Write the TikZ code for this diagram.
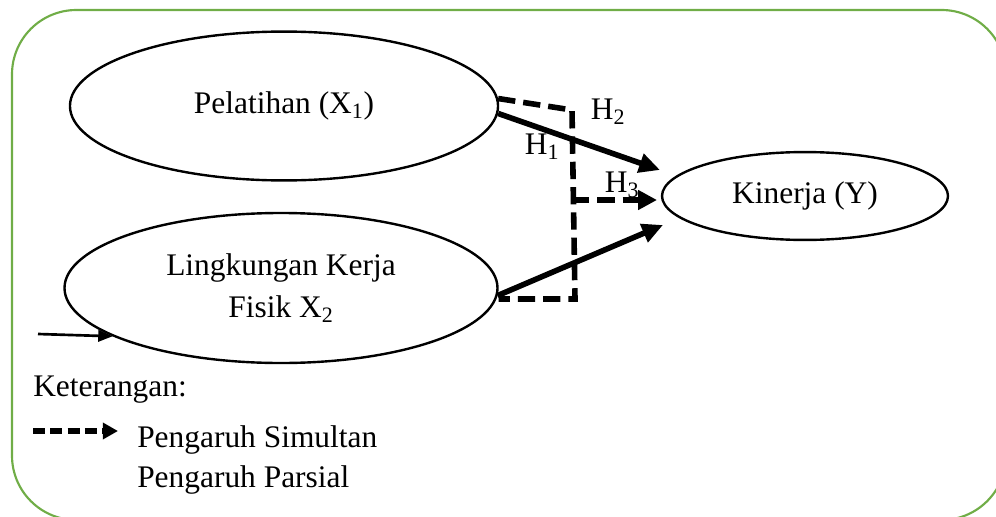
\documentclass[tikz,border=0pt]{standalone}
\usepackage{fontspec}
\setmainfont{Liberation Serif}
\usetikzlibrary{positioning, shapes.geometric, arrows.meta}
\definecolor{framegreen}{RGB}{112,173,71}
\tikzset{
    var/.style = {draw, ellipse, line width = 1.8pt, inner sep = 0pt, align = center},
    lbl/.style = {inner sep = 0pt, anchor = west},
    tip/.style = {line width = 4.2pt, -{Triangle[length = 0.55cm, width = 0.5cm]}},
    simtip/.style = {line width = 4.2pt, dash pattern = on 13pt off 6pt, -{Triangle[length = 0.5cm, width = 0.5cm]}},
    simline/.style = {line width = 4.2pt, dash pattern = on 13pt off 6pt}
}

\begin{document}
\begin{tikzpicture}
        [
            x = 0.0264cm, y = -0.0264cm,
            font = \fontsize{23.6}{28}\selectfont
        ]
        \useasboundingbox (0,0) rectangle (996,516);
        \begin{scope}
            \clip (0,0) rectangle (996,516);
            \draw[framegreen, line width = 1.6pt, rounded corners = 1.7cm] (12,10) rectangle (1006,520);
        \end{scope}
        \node[var, minimum width = 11.3cm, minimum height = 3.93cm]  (pel)  at (284,106) {Pelatihan (X\textsubscript{1})};
        \node[var, minimum width = 11.43cm, minimum height = 3.96cm] (ling) at (281,288) {Lingkungan Kerja\\[3pt]Fisik X\textsubscript{2}};
        \node[var, minimum width = 7.55cm, minimum height = 2.32cm]  (kin)  at (805,196) {Kinerja (Y)};
        % arrow ends
        \coordinate (t1) at (660,170);
        \coordinate (t2) at (663,225);
        \coordinate (t3) at (657,200);
        \coordinate (j3) at (572,200);
        \coordinate (in) at (38,334);
        % arrows
        \draw[tip]    (pel.-2)   -- (t1);
        \draw[tip]    (ling.-2.5) -- (t2);
        \draw[simline] (pel.2) -- (572,110) -- (575,299) -- (ling.east |- 0,299);
        \draw[simtip] (j3) -- (t3);
        \draw[line width = 2pt, -{Triangle[length = 0.38cm, width = 0.3cm]}] (in) -- (ling.196);
        \node at (608,112) {H\textsubscript{2}};
        \node at (542,147) {H\textsubscript{1}};
        \node at (622,185) {H\textsubscript{3}};
        % legend
        \node[lbl] (ket) at (33,390) {Keterangan:};
        \coordinate (l1) at (33,431);
        \coordinate (l2) at (118,431);
        \draw[line width = 4pt, dash pattern = on 9pt off 4pt, -{Triangle[length = 0.4cm, width = 0.42cm]}] (l1) -- (l2);
        \node[lbl] (sim) at (137,440) {Pengaruh Simultan};
        \node[lbl, below = 8pt of sim.south west, anchor = north west] (par) {Pengaruh Parsial};
    \end{tikzpicture}
\end{document}
